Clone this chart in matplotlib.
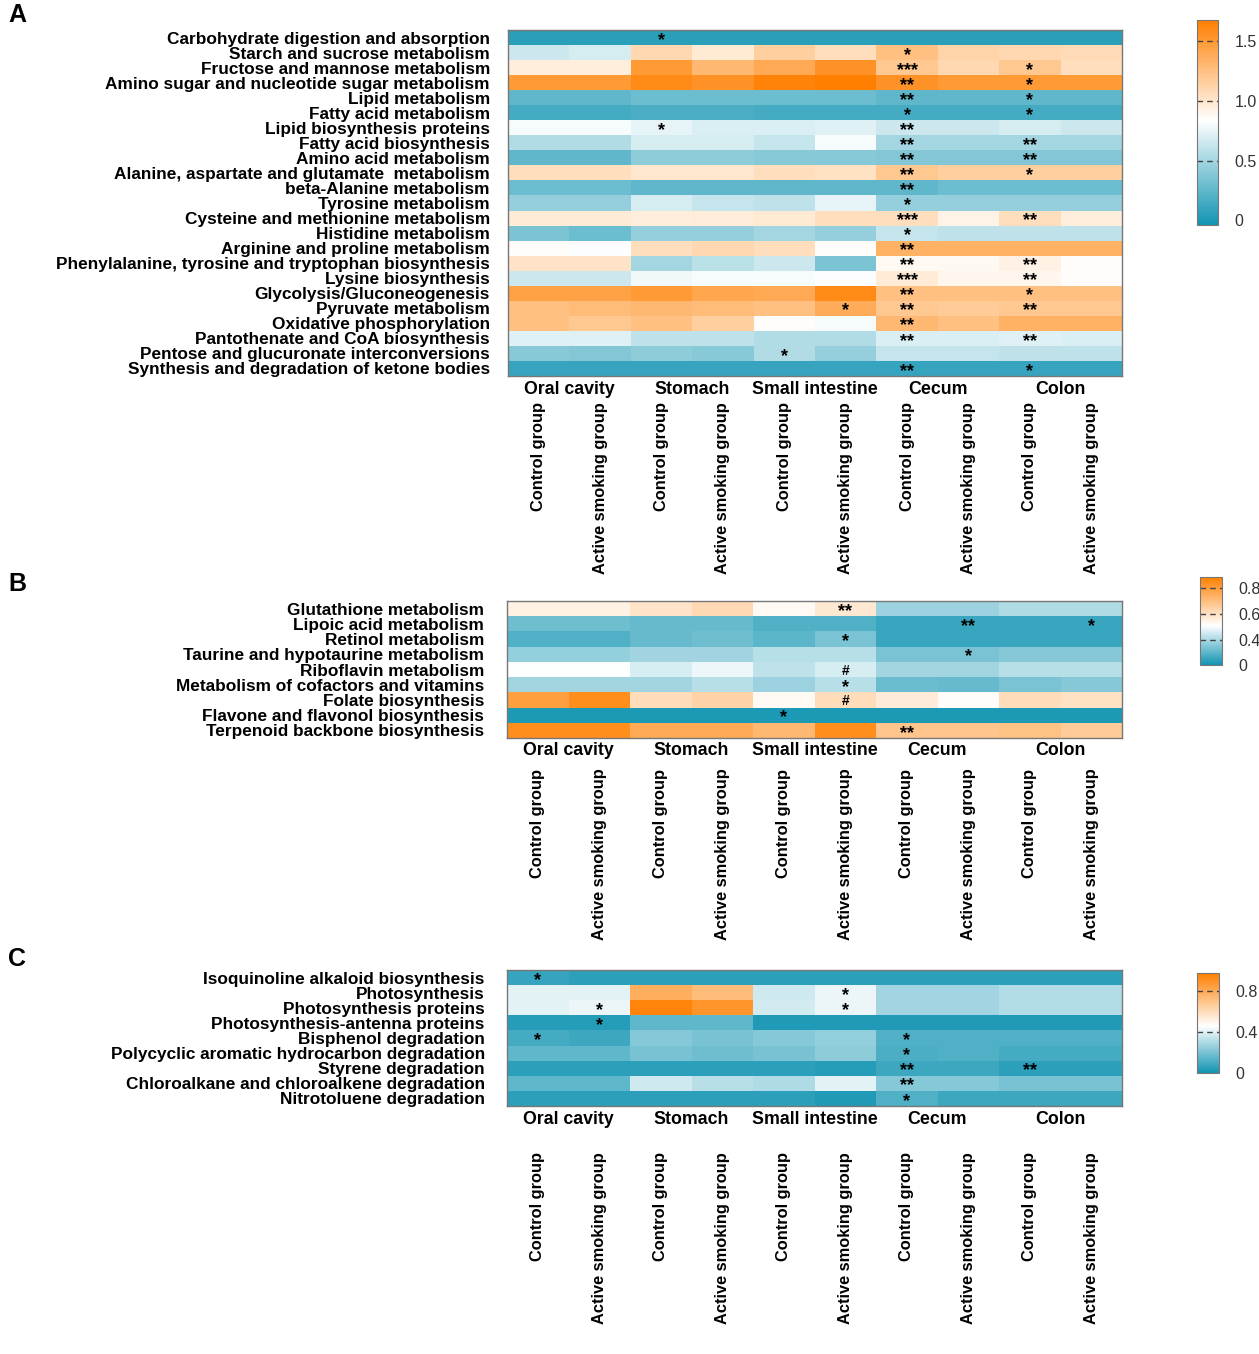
import numpy as np
import matplotlib
matplotlib.use("Agg")
import matplotlib.pyplot as plt
from matplotlib.colors import LinearSegmentedColormap, Normalize, FuncNorm

plt.rcParams['font.family'] = ['Liberation Sans', 'DejaVu Sans']

sites = ['Oral cavity', 'Stomach', 'Small intestine', 'Cecum', 'Colon']
groups = ['Control group', 'Active smoking group']

# ---- panel A ----
rows_a = ['Carbohydrate digestion and absorption', 'Starch and sucrose metabolism',
          'Fructose and mannose metabolism', 'Amino sugar and nucleotide sugar metabolism',
          'Lipid metabolism', 'Fatty acid metabolism', 'Lipid biosynthesis proteins',
          'Fatty acid biosynthesis', 'Amino acid metabolism',
          'Alanine, aspartate and glutamate  metabolism', 'beta-Alanine metabolism',
          'Tyrosine metabolism', 'Cysteine and methionine metabolism', 'Histidine metabolism',
          'Arginine and proline metabolism',
          'Phenylalanine, tyrosine and tryptophan biosynthesis', 'Lysine biosynthesis',
          'Glycolysis/Gluconeogenesis', 'Pyruvate metabolism', 'Oxidative phosphorylation',
          'Pantothenate and CoA biosynthesis', 'Pentose and glucuronate interconversions',
          'Synthesis and degradation of ketone bodies']
vals_a = [
    [0.05, 0.05, 0.05, 0.05, 0.05, 0.05, 0.05, 0.05, 0.05, 0.05],
    [0.65, 0.68, 1.10, 0.98, 1.15, 1.05, 1.25, 1.12, 1.10, 1.08],
    [0.95, 0.95, 1.50, 1.30, 1.40, 1.55, 1.20, 1.10, 1.20, 1.05],
    [1.50, 1.50, 1.60, 1.55, 1.65, 1.70, 1.55, 1.50, 1.50, 1.50],
    [0.25, 0.25, 0.30, 0.30, 0.30, 0.30, 0.25, 0.25, 0.25, 0.25],
    [0.15, 0.15, 0.18, 0.18, 0.15, 0.15, 0.15, 0.15, 0.15, 0.15],
    [0.80, 0.80, 0.75, 0.70, 0.70, 0.72, 0.65, 0.65, 0.68, 0.65],
    [0.55, 0.55, 0.68, 0.68, 0.62, 0.80, 0.50, 0.50, 0.50, 0.50],
    [0.25, 0.25, 0.42, 0.42, 0.40, 0.40, 0.38, 0.38, 0.38, 0.38],
    [1.05, 1.05, 1.00, 1.00, 1.05, 1.03, 1.20, 1.15, 1.15, 1.15],
    [0.30, 0.30, 0.25, 0.25, 0.25, 0.25, 0.25, 0.30, 0.30, 0.30],
    [0.45, 0.45, 0.68, 0.62, 0.60, 0.75, 0.45, 0.45, 0.45, 0.45],
    [0.97, 0.97, 0.95, 0.96, 0.98, 1.05, 1.05, 0.92, 1.05, 0.95],
    [0.35, 0.30, 0.45, 0.45, 0.50, 0.45, 0.62, 0.60, 0.60, 0.60],
    [0.86, 0.82, 1.05, 1.10, 1.05, 0.86, 1.35, 1.35, 1.35, 1.35],
    [1.02, 1.02, 0.50, 0.58, 0.65, 0.35, 0.88, 0.88, 0.93, 0.86],
    [0.65, 0.65, 0.78, 0.80, 0.80, 0.82, 0.97, 0.90, 0.90, 0.85],
    [1.45, 1.45, 1.50, 1.42, 1.40, 1.60, 1.25, 1.25, 1.25, 1.25],
    [1.25, 1.28, 1.30, 1.28, 1.25, 1.38, 1.20, 1.18, 1.20, 1.20],
    [1.25, 1.20, 1.25, 1.15, 0.85, 0.80, 1.30, 1.25, 1.35, 1.35],
    [0.72, 0.72, 0.60, 0.60, 0.55, 0.55, 0.70, 0.70, 0.72, 0.70],
    [0.40, 0.38, 0.42, 0.40, 0.55, 0.45, 0.62, 0.62, 0.60, 0.60],
    [0.10, 0.10, 0.10, 0.10, 0.10, 0.10, 0.10, 0.10, 0.10, 0.10],
]
sig_a = [
    ['', '', '*', '', '', '', '', '', '', ''],
    ['', '', '', '', '', '', '*', '', '', ''],
    ['', '', '', '', '', '', '***', '', '*', ''],
    ['', '', '', '', '', '', '**', '', '*', ''],
    ['', '', '', '', '', '', '**', '', '*', ''],
    ['', '', '', '', '', '', '*', '', '*', ''],
    ['', '', '*', '', '', '', '**', '', '', ''],
    ['', '', '', '', '', '', '**', '', '**', ''],
    ['', '', '', '', '', '', '**', '', '**', ''],
    ['', '', '', '', '', '', '**', '', '*', ''],
    ['', '', '', '', '', '', '**', '', '', ''],
    ['', '', '', '', '', '', '*', '', '', ''],
    ['', '', '', '', '', '', '***', '', '**', ''],
    ['', '', '', '', '', '', '*', '', '', ''],
    ['', '', '', '', '', '', '**', '', '', ''],
    ['', '', '', '', '', '', '**', '', '**', ''],
    ['', '', '', '', '', '', '***', '', '**', ''],
    ['', '', '', '', '', '', '**', '', '*', ''],
    ['', '', '', '', '', '*', '**', '', '**', ''],
    ['', '', '', '', '', '', '**', '', '', ''],
    ['', '', '', '', '', '', '**', '', '**', ''],
    ['', '', '', '', '*', '', '', '', '', ''],
    ['', '', '', '', '', '', '**', '', '*', ''],
]

# ---- panel B ----
rows_b = ['Glutathione metabolism', 'Lipoic acid metabolism', 'Retinol metabolism',
          'Taurine and hypotaurine metabolism', 'Riboflavin metabolism',
          'Metabolism of cofactors and vitamins', 'Folate biosynthesis',
          'Flavone and flavonol biosynthesis', 'Terpenoid backbone biosynthesis']
vals_b = [
    [0.55, 0.55, 0.59, 0.62, 0.53, 0.58, 0.37, 0.37, 0.41, 0.41],
    [0.25, 0.25, 0.23, 0.23, 0.17, 0.17, 0.11, 0.11, 0.11, 0.11],
    [0.17, 0.17, 0.23, 0.25, 0.20, 0.28, 0.11, 0.11, 0.11, 0.11],
    [0.35, 0.35, 0.38, 0.38, 0.42, 0.42, 0.28, 0.28, 0.31, 0.31],
    [0.51, 0.51, 0.46, 0.49, 0.43, 0.46, 0.39, 0.39, 0.42, 0.42],
    [0.39, 0.39, 0.39, 0.42, 0.37, 0.42, 0.24, 0.23, 0.28, 0.31],
    [0.79, 0.84, 0.61, 0.64, 0.53, 0.61, 0.57, 0.52, 0.61, 0.60],
    [0.03, 0.03, 0.03, 0.03, 0.03, 0.03, 0.03, 0.03, 0.03, 0.03],
    [0.84, 0.84, 0.76, 0.76, 0.72, 0.84, 0.68, 0.68, 0.69, 0.66],
]
sig_b = [
    ['', '', '', '', '', '**', '', '', '', ''],
    ['', '', '', '', '', '', '', '**', '', '*'],
    ['', '', '', '', '', '*', '', '', '', ''],
    ['', '', '', '', '', '', '', '*', '', ''],
    ['', '', '', '', '', '#', '', '', '', ''],
    ['', '', '', '', '', '*', '', '', '', ''],
    ['', '', '', '', '', '#', '', '', '', ''],
    ['', '', '', '', '*', '', '', '', '', ''],
    ['', '', '', '', '', '', '**', '', '', ''],
]

# ---- panel C ----
rows_c = ['Isoquinoline alkaloid biosynthesis', 'Photosynthesis', 'Photosynthesis proteins',
          'Photosynthesis-antenna proteins', 'Bisphenol degradation',
          'Polycyclic aromatic hydrocarbon degradation', 'Styrene degradation',
          'Chloroalkane and chloroalkene degradation', 'Nitrotoluene degradation']
vals_c = [
    [0.07, 0.05, 0.05, 0.05, 0.05, 0.05, 0.05, 0.05, 0.05, 0.05],
    [0.40, 0.40, 0.78, 0.72, 0.36, 0.42, 0.28, 0.28, 0.31, 0.31],
    [0.40, 0.42, 0.95, 0.88, 0.37, 0.42, 0.28, 0.28, 0.31, 0.31],
    [0.04, 0.04, 0.15, 0.15, 0.03, 0.03, 0.03, 0.03, 0.03, 0.03],
    [0.10, 0.08, 0.22, 0.20, 0.22, 0.25, 0.12, 0.12, 0.12, 0.12],
    [0.15, 0.15, 0.20, 0.18, 0.20, 0.24, 0.11, 0.12, 0.10, 0.10],
    [0.05, 0.05, 0.05, 0.05, 0.05, 0.04, 0.08, 0.08, 0.05, 0.05],
    [0.15, 0.15, 0.36, 0.32, 0.30, 0.40, 0.22, 0.22, 0.20, 0.20],
    [0.05, 0.05, 0.05, 0.05, 0.05, 0.03, 0.12, 0.08, 0.08, 0.08],
]
sig_c = [
    ['*', '', '', '', '', '', '', '', '', ''],
    ['', '', '', '', '', '*', '', '', '', ''],
    ['', '*', '', '', '', '*', '', '', '', ''],
    ['', '*', '', '', '', '', '', '', '', ''],
    ['*', '', '', '', '', '', '*', '', '', ''],
    ['', '', '', '', '', '', '*', '', '', ''],
    ['', '', '', '', '', '', '**', '', '**', ''],
    ['', '', '', '', '', '', '**', '', '', ''],
    ['', '', '', '', '', '', '*', '', '', ''],
]

TEAL = '#1294b2'
ORANGE = '#ff7f00'


def make_cmap(white_pos):
    return LinearSegmentedColormap.from_list(
        'tw', [(0, TEAL), (white_pos, '#ffffff'), (1, ORANGE)])


# panel B colorbar is not linear in the original
bx = [0, 0.4, 0.6, 0.8, 0.885]
by = [0, 0.284, 0.58, 0.875, 1.0]
norm_b = FuncNorm((lambda v: np.interp(v, bx, by), lambda v: np.interp(v, by, bx)),
                  vmin=0, vmax=0.885)

W, H = 1259, 1354
fig = plt.figure(figsize=(W / 100, H / 100), dpi=100)


def px(x0, y0, x1, y1):
    return [x0 / W, 1 - y1 / H, (x1 - x0) / W, (y1 - y0) / H]


# letter, rows, values, stars, norm, cmap, heat box, cbar box, cbar ticks, labels,
# letter y, xtick pad, ytick pad, site label offset (px)
panels = [
    ('A', rows_a, vals_a, sig_a, Normalize(-0.04, 1.68), make_cmap(0.51),
     px(508, 30, 1122, 376), px(1197, 20, 1218, 225), [0, 0.5, 1.0, 1.5],
     ['0', '0.5', '1.0', '1.5'], 3, 19, 13, 13),
    ('B', rows_b, vals_b, sig_b, norm_b, make_cmap(0.45),
     px(507, 601, 1122, 738), px(1200, 577, 1222, 665), [0, 0.4, 0.6, 0.8],
     ['0', '0.4', '0.6', '0.8'], 572, 22, 16.5, 12),
    ('C', rows_c, vals_c, sig_c, Normalize(0, 0.97), make_cmap(0.47),
     px(507, 970, 1122, 1106), px(1197, 973, 1219, 1073), [0, 0.4, 0.8],
     ['0', '0.4', '0.8'], 947, 33, 16, 14),
]

for (letter, rows, vals, sig, norm, cmap, pos, cpos, cticks, clabels,
     ly, xpad, ypad, soff) in panels:
    ax = fig.add_axes(pos)
    data = np.array(vals)
    mesh = ax.pcolormesh(data, cmap=cmap, norm=norm)
    ax.set_xlim(0, data.shape[1])
    ax.set_ylim(data.shape[0], 0)
    for s in ax.spines.values():
        s.set_color('#777777')
        s.set_linewidth(1)

    ax.set_yticks(np.arange(len(rows)) + 0.5)
    ax.set_yticklabels(rows, fontsize=12.4, fontweight='bold')
    ax.tick_params(axis='y', length=0, pad=ypad)

    ax.set_xticks(np.arange(10) + 0.5)
    ax.set_xticklabels(groups * 5, rotation=90, va='top', fontsize=11.8, fontweight='bold')
    ax.tick_params(axis='x', length=0, pad=xpad)

    for k, site in enumerate(sites):
        ax.annotate(site, xy=(2 * k + 1, data.shape[0]), xytext=(0, -soff * 0.72),
                    textcoords='offset points', ha='center', va='center',
                    fontsize=12.8, fontweight='bold')

    # significance marks
    for i, row in enumerate(sig):
        for j, s in enumerate(row):
            if not s:
                continue
            fs = 10 if s == '#' else 13
            off = 0.36 if s == '#' else 0.40
            ax.annotate(s, xy=(j + 0.5, i + 0.5), xytext=(0, -off * fs),
                        textcoords='offset points', ha='center', va='baseline',
                        fontsize=fs, fontweight='bold', color='black')

    fig.text(8 / W, 1 - ly / H, letter, fontsize=18, fontweight='bold', va='top')

    cax = fig.add_axes(cpos)
    cb = fig.colorbar(mesh, cax=cax)
    cb.outline.set_edgecolor('#777777')
    cb.set_ticks(cticks)
    cb.set_ticklabels(clabels)
    cax.tick_params(length=0, pad=12, labelsize=11.5, colors='#333333')
    for v in cticks:
        if v != 0:
            cax.axhline(v, color='#444444', lw=1, ls=(0, (4, 3)))

fig.savefig('out.png', dpi=100)
